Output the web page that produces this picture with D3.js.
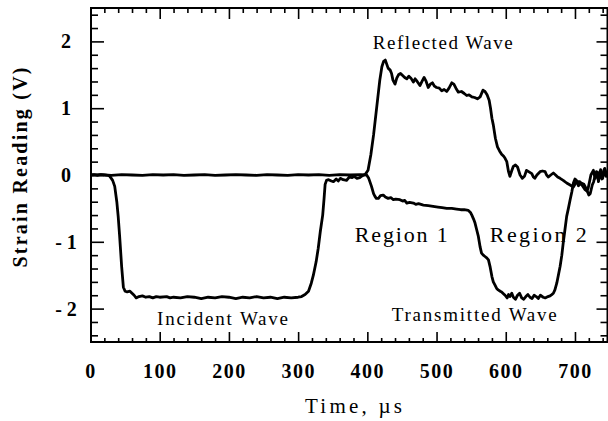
<!DOCTYPE html>
<html><head><meta charset="utf-8">
<script src="https://cdn.jsdelivr.net/npm/d3@7"></script>
<style>
html,body{margin:0;padding:0;background:#fff;}
svg{display:block;}
text{font-family:"Liberation Serif","Times New Roman",serif;fill:#000;}
</style></head>
<body><svg id="c" width="608" height="421"></svg>
<script>
// ---- data ----
const xMajorTicks = [0,100,200,300,400,500,600,700];
const xTickLabels = ["0","100","200","300","400","500","600","700"];
const yMajorTicks = [-2,-1,0,1,2];
const yTickLabels = ["- 2","- 1","0","1","2"];

const incidentTime = [0,5,10,15,20,25,28,32,35,38,40,42,45,47.5,50,53,57,60,63,66,70,75,80,85,90,95,100,110,115,120,130,140,150,160,170,180,190,200,210,220,230,240,250,260,270,280,290,300,305,310,315,319,322,326,329,332,335.5,337.5,339,341,344,348,351,355,358,361,365,370,374,378,381,385,389,393,397,401,405,409,413.6,418,421,423.5,426,428,430,433,435,437,440,442.5,445,448,451,454,457,460,463,466.5,469,472,476,479,482,485,488,491,494,497,500,504,507.5,511,514.7,518,522,525,528,531.5,536,540,543.6,547,551,555,559,563,567,570,573,576,578,580,582,585,588,591,594,597,599,601.5,604,606,608.5,611,614,617,620.7,624,627,630,633,637.6,640,642,645,649.6,653,656.8,659,661.6,665,668.8,672,675,678.5,683,688,693,697.7,700,703,707,710,714.6,717,719,721,723,726.6,729,731,734,737,740,743,746];
const incidentValue = [0,0.005,-0.005,0.005,0,-0.005,-0.02,-0.08,-0.17,-0.4,-0.62,-0.9,-1.37,-1.68,-1.74,-1.75,-1.74,-1.77,-1.8,-1.84,-1.82,-1.81,-1.83,-1.82,-1.84,-1.82,-1.83,-1.82,-1.84,-1.83,-1.84,-1.82,-1.83,-1.85,-1.83,-1.84,-1.82,-1.83,-1.85,-1.83,-1.84,-1.82,-1.84,-1.83,-1.85,-1.83,-1.84,-1.83,-1.82,-1.79,-1.74,-1.62,-1.5,-1.3,-1.1,-0.85,-0.6,-0.35,-0.14,-0.08,-0.07,-0.09,-0.1,-0.06,-0.09,-0.05,-0.07,-0.08,-0.03,-0.04,-0.02,-0.05,-0.04,-0.01,0.01,0.07,0.3,0.6,1.02,1.42,1.62,1.7,1.72,1.66,1.6,1.57,1.52,1.42,1.36,1.45,1.5,1.52,1.49,1.46,1.44,1.48,1.45,1.39,1.44,1.4,1.34,1.4,1.46,1.4,1.31,1.36,1.38,1.33,1.31,1.3,1.26,1.28,1.25,1.3,1.38,1.36,1.3,1.24,1.25,1.22,1.19,1.2,1.17,1.16,1.14,1.17,1.27,1.25,1.2,1.12,1.0,0.85,0.75,0.55,0.42,0.36,0.31,0.28,0.25,0.2,0.05,-0.02,0.06,0.13,0.15,0.12,0.0,-0.05,-0.02,0.07,0.05,0.02,-0.03,-0.05,0.0,0.05,0.06,0.05,0.0,-0.03,0.0,0.03,0.0,-0.03,-0.05,-0.08,-0.12,-0.15,-0.18,-0.14,-0.1,-0.1,-0.15,-0.22,-0.24,-0.2,-0.1,0.0,0.07,-0.05,0.05,-0.08,0.08,-0.05,0.1,0.0];

const transmittedTime = [0,15,30,45,60,75,90,105,120,135,150,165,180,195,210,225,240,255,270,285,300,315,330,345,360,375,390,399,402,406,409,411,413,416,419,423,426,430,434,437.6,441,447,451,454,457,461,466.5,470,474,481,488,495,502,508,514.7,522,529,535,540,546,549,551,553.5,555.6,558,560.4,563,565,567.5,570,572.5,575,577.5,580,582,584.5,587,589,592,594,597,599,602,604,606,608.7,611,614,617,620,623,626,629,632,635,638,641,644,647,650,654,657,661,664,666.5,668.8,671,673.7,676,678.5,681,683,685.5,688,690.5,693,695.5,697.7,700,702,705,709,713,717,720,722,725,727,730,732,734,736,739,742,745];
const transmittedValue = [0,0.005,-0.005,0.005,0,-0.005,0.005,0,0.005,-0.005,0,0.005,-0.005,0,0.005,0,-0.005,0.005,0,-0.005,0.005,0,0.005,-0.005,0.005,0,0.005,0.0,-0.05,-0.17,-0.28,-0.32,-0.35,-0.35,-0.31,-0.3,-0.33,-0.35,-0.34,-0.37,-0.36,-0.37,-0.39,-0.38,-0.42,-0.41,-0.42,-0.44,-0.43,-0.45,-0.46,-0.47,-0.48,-0.49,-0.5,-0.5,-0.51,-0.52,-0.52,-0.53,-0.56,-0.6,-0.66,-0.72,-0.82,-0.92,-1.08,-1.17,-1.2,-1.22,-1.24,-1.27,-1.38,-1.52,-1.6,-1.65,-1.7,-1.72,-1.74,-1.75,-1.78,-1.8,-1.84,-1.79,-1.82,-1.77,-1.83,-1.86,-1.8,-1.77,-1.84,-1.86,-1.82,-1.79,-1.83,-1.85,-1.8,-1.82,-1.85,-1.8,-1.83,-1.84,-1.82,-1.81,-1.79,-1.77,-1.72,-1.62,-1.5,-1.37,-1.2,-1.02,-0.82,-0.62,-0.5,-0.37,-0.25,-0.12,-0.06,-0.08,-0.16,-0.12,-0.14,-0.22,-0.3,-0.28,-0.15,-0.1,0.02,0.04,-0.1,0.05,-0.06,0.08,-0.02];

const annotationText = ["Reflected  Wave","Incident  Wave","Transmitted  Wave","Region  1","Region  2"];
const annotationTime = [509, 190.8, 554.5, 449, 647];
const annotationValue = [1.88, -2.245, -2.18, -1.0, -1.0];

// ---- layout ----
const svg = d3.select("#c");
const L = 91, R = 607.5, T = 8, B = 342;
const x = d3.scaleLinear().domain([0,747]).range([L - 0.5, R]);
const y = d3.scaleLinear().domain([-2.5,2.5]).range([B, T]);

const xMinor = d3.range(0, 747, 20).filter(d => d % 100 !== 0);
const yMinor = d3.range(-24, 25, 2).map(d => d/10).filter(d => Math.abs(d*10) % 10 !== 0 && Math.abs(d) < 2.5);

function styleAxis(g){ g.select(".domain").remove(); g.selectAll("line").attr("stroke","#000").attr("stroke-width",1.6); }

// bottom
svg.append("g").attr("transform",`translate(0,${B})`)
  .call(d3.axisBottom(x).tickValues(xMinor).tickSize(-4).tickFormat("")).call(styleAxis);
const xb = svg.append("g").attr("transform",`translate(0,${B})`)
  .call(d3.axisBottom(x).tickValues(xMajorTicks).tickSize(-10).tickPadding(22).tickFormat((d,i)=>xTickLabels[i])).call(styleAxis);
xb.selectAll("text").attr("font-size",20).attr("font-weight","bold").attr("letter-spacing","1.5px")
  .attr("font-family","Liberation Serif").attr("fill","#000");
// top
svg.append("g").attr("transform",`translate(0,${T})`)
  .call(d3.axisTop(x).tickValues(xMinor).tickSize(-5).tickFormat("")).call(styleAxis);
svg.append("g").attr("transform",`translate(0,${T})`)
  .call(d3.axisTop(x).tickValues(xMajorTicks).tickSize(-11).tickFormat("")).call(styleAxis);
// left
svg.append("g").attr("transform",`translate(${L},0)`)
  .call(d3.axisLeft(y).tickValues(yMinor).tickSize(-7).tickFormat("")).call(styleAxis);
const yl = svg.append("g").attr("transform",`translate(${L},0)`)
  .call(d3.axisLeft(y).tickValues(yMajorTicks).tickSize(-13).tickFormat((d,i)=>yTickLabels[i])).call(styleAxis);
yl.selectAll("text").attr("x",-25).attr("text-anchor","middle").attr("font-size",20).attr("font-weight","bold")
  .attr("font-family","Liberation Serif").attr("fill","#000");
// right
svg.append("g").attr("transform",`translate(${R},0)`)
  .call(d3.axisRight(y).tickValues(yMinor).tickSize(-7).tickFormat("")).call(styleAxis);
svg.append("g").attr("transform",`translate(${R},0)`)
  .call(d3.axisRight(y).tickValues(yMajorTicks).tickSize(-11).tickFormat("")).call(styleAxis);

// frame
svg.append("rect").attr("x",L).attr("y",T).attr("width",R-L).attr("height",B-T)
  .attr("fill","none").attr("stroke","#000").attr("stroke-width",2);

// clip
svg.append("clipPath").attr("id","clip").append("rect").attr("x",L).attr("y",T).attr("width",R-L).attr("height",B-T);

const line = d3.line().x(d=>x(d[0])).y(d=>y(d[1]));
const inc = incidentTime.map((t,i)=>[t,incidentValue[i]]);
const tr = transmittedTime.map((t,i)=>[t,transmittedValue[i]]);
const plot = svg.append("g").attr("clip-path","url(#clip)");
[tr, inc].forEach(s=>{
  plot.append("path").datum(s).attr("d",line).attr("fill","none").attr("stroke","#000")
    .attr("stroke-width",2.8).attr("stroke-linejoin","round").attr("stroke-linecap","round");
});

// annotations
const annWidths = [140, 131, 165, 93, 97];
const annSizes = [19, 19, 19, 22, 22];
svg.selectAll("text.ann").data(annotationText).enter().append("text").attr("class","ann")
  .attr("x",(d,i)=>x(annotationTime[i])).attr("y",(d,i)=>y(annotationValue[i])).attr("text-anchor","middle")
  .attr("font-size",(d,i)=>annSizes[i])
  .attr("textLength",(d,i)=>annWidths[i]).attr("lengthAdjust","spacing")
  .text(d=>d);

// axis titles
svg.append("text").attr("x",353.5).attr("y",413).attr("text-anchor","middle")
  .attr("font-size",21).attr("textLength",97).attr("lengthAdjust","spacing").text("Time,  µs");
svg.append("text").attr("transform","translate(27,167.5) rotate(-90)").attr("text-anchor","middle")
  .attr("font-size",20).attr("font-weight","bold").attr("textLength",200).attr("lengthAdjust","spacing")
  .text("Strain  Reading  (V)");
</script></body></html>
